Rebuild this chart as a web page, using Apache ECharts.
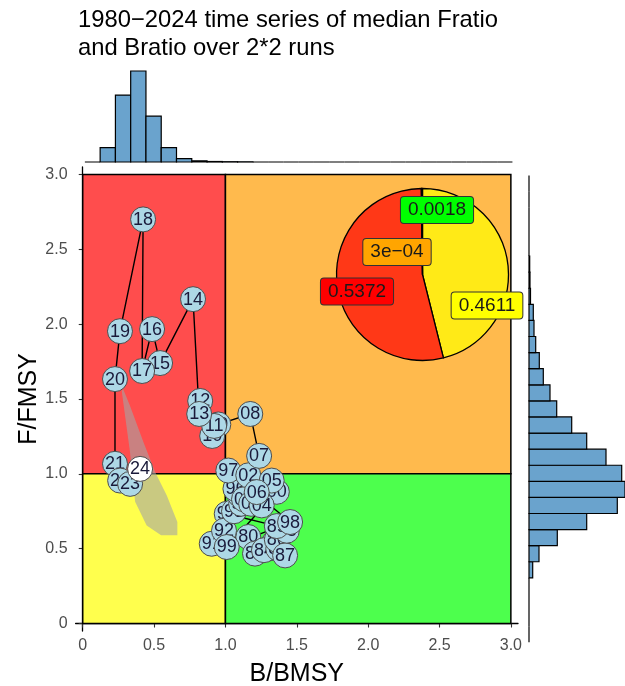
<!DOCTYPE html>
<html><head><meta charset="utf-8">
<script src="https://cdn.jsdelivr.net/npm/echarts@6/dist/echarts.min.js"></script>
<style>html,body{margin:0;padding:0;background:#fff}#c{width:625px;height:686px}</style>
</head><body><div id="c"></div>
<script>
// ---------- data ----------
const years = [1980,1981,1982,1983,1984,1985,1986,1987,1988,1989,
  1990,1991,1992,1993,1994,1995,1996,1997,1998,1999,
  2000,2001,2002,2003,2004,2005,2006,2007,2008,2009,
  2010,2011,2012,2013,2014,2015,2016,2017,2018,2019,
  2020,2021,2022,2023,2024];
const bRatio = [1.16,1.207,1.30,1.34,1.27,1.37,1.36,1.418,1.43,1.36,
  1.009,0.904,0.99,1.06,1.11,1.10,1.07,1.02,1.453,1.009,
  1.36,1.13,1.16,1.18,1.254,1.324,1.219,1.236,1.174,0.95,
  0.907,0.921,0.823,0.816,0.773,0.542,0.486,0.416,0.423,0.261,
  0.226,0.226,0.262,0.332,0.402];
const fRatio = [0.578,0.467,0.50,0.54,0.49,0.50,0.56,0.455,0.62,0.651,
  0.733,0.533,0.62,0.75,0.80,0.86,0.90,1.022,0.678,0.511,
  0.88,0.83,0.99,0.80,0.789,0.955,0.878,1.12,1.40,1.33,
  1.253,1.32,1.487,1.40,2.167,1.74,1.967,1.687,2.70,1.953,
  1.633,1.067,0.955,0.933,1.033];

// uncertainty polygon (B, F)
const polyB = [0.273,0.331,0.367,0.448,0.549,0.663,0.663,0.589,0.507,0.425,0.331,0.283];
const polyF = [1.555,1.147,0.813,0.655,0.589,0.589,0.678,0.855,1.013,1.213,1.455,1.567];

// quadrant bounds [B0, B1, F0, F1]
const quadrants = [[0,1,1,3],[1,3,1,3],[0,1,0,1],[1,3,0,1]];

// pie proportions (yellow, red, orange, green)
const pieNames = ['yellow','red','orange','green'];
const pieValues = [0.4611, 0.5372, 0.0003, 0.0018];
const pieLabels = ['0.4611','0.5372','3e\u221204','0.0018'];

// marginal histograms
const topBinStart = 0.015, topBinWidth = 0.107;
const topCounts = [0,143,667,907,457,143,33,12,5,3,2,0,0,0,0,0,0,0,0,0,0,0,0,0,0,0,0,0];
const rightBinStart = -0.125, rightBinWidth = 0.1075;
const rightCounts = [0,0,0,0,37,100,283,577,883,960,927,770,577,427,277,210,143,103,67,50,43,15,10,7,0,0,0,0,0];

const axisTicks = [0,0.5,1,1.5,2,2.5,3];
const titleText = '1980\u22122024 time series of median Fratio\nand Bratio over 2*2 runs';

// ---------- styles / layout ----------
const FONT = 'Liberation Sans, Arial, sans-serif';
const quadColors = ['#ff4d4d','#ffba4d','#ffff4d','#4dff4d'];
const pieColors = ['#ffea17','#ff3817','#ffab17','#4dea17'];
const pieLabelBg = ['#ffff00','#ff0000','#ffa500','#00ff00'];
const pieCenter = [422.5, 274.5];
const pieLabelOffsets = [[64.5,31],[-65.5,17],[-25.5,-22.5],[14.5,-64.5]];
const histFill = '#6aa3cd';

const topData = topCounts.map((c,i)=>[topBinStart+i*topBinWidth, topBinStart+(i+1)*topBinWidth, c]);
const rightData = rightCounts.map((c,i)=>[rightBinStart+i*rightBinWidth, rightBinStart+(i+1)*rightBinWidth, c]);
const pts = years.map((y,i)=>[bRatio[i], fRatio[i]]);

const chart = echarts.init(document.getElementById('c'), null, {renderer:'canvas'});
const mainX = {min:-0.05, max:3.05};
const option = {
  animation:false,
  backgroundColor:'#ffffff',
  textStyle:{fontFamily:FONT},
  title:{text:titleText, left:78, top:6, padding:0,
    textStyle:{fontFamily:FONT, fontSize:23.8, fontWeight:'normal', color:'#000', lineHeight:28}},
  grid:[
    {left:75.6, right:107, top:167, height:464, containLabel:false, outerBoundsMode:'none'},
    {left:75.6, right:107, top:71, height:91, containLabel:false, outerBoundsMode:'none'},
    {left:529, width:96, top:167, height:464, containLabel:false, outerBoundsMode:'none'}
  ],
  xAxis:[
    {gridIndex:0, type:'value', min:mainX.min, max:mainX.max,
      name:'B/BMSY', nameLocation:'middle', nameGap:31, nameMoveOverlap:false,
      nameTextStyle:{fontFamily:FONT, fontSize:25, color:'#000'},
      axisLine:{lineStyle:{color:'#000', width:1.3}},
      axisTick:{customValues:axisTicks, length:4, lineStyle:{color:'#333', width:1.1}},
      axisLabel:{customValues:axisTicks, margin:7, fontSize:16, color:'#4d4d4d', fontFamily:FONT,
        formatter:v=> v===0?'0':v.toFixed(1)},
      splitLine:{show:false}},
    {gridIndex:1, type:'value', min:mainX.min, max:mainX.max, show:false},
    {gridIndex:2, type:'value', min:0, max:Math.max(...rightCounts), show:false}
  ],
  yAxis:[
    {gridIndex:0, type:'value', min:-0.05, max:3.05,
      name:'F/FMSY', nameLocation:'middle', nameGap:34, nameRotate:90, nameMoveOverlap:false,
      nameTextStyle:{fontFamily:FONT, fontSize:25, color:'#000'},
      axisLine:{lineStyle:{color:'#000', width:1.3}},
      axisTick:{customValues:axisTicks, length:4, lineStyle:{color:'#333', width:1.1}},
      axisLabel:{customValues:axisTicks, margin:8, fontSize:16, color:'#4d4d4d', fontFamily:FONT,
        formatter:v=> v===0?'0':v.toFixed(1)},
      splitLine:{show:false}},
    {gridIndex:1, type:'value', min:0, max:Math.max(...topCounts), show:false},
    {gridIndex:2, type:'value', min:-0.05, max:3.05, show:false}
  ],
  series:[
    {type:'custom', xAxisIndex:0, yAxisIndex:0, z:1, silent:true,
      data:quadrants,
      renderItem:(params, api)=>{
        const q = quadrants[params.dataIndex];
        const p0 = api.coord([q[0], q[2]]), p1 = api.coord([q[1], q[3]]);
        return {type:'rect', shape:{x:p0[0], y:p1[1], width:p1[0]-p0[0], height:p0[1]-p1[1]},
          style:{fill:quadColors[params.dataIndex], stroke:'#000', lineWidth:1.5}};
      }},
    {type:'custom', xAxisIndex:0, yAxisIndex:0, z:2, silent:true,
      data:[0],
      renderItem:(params, api)=>{
        const points = polyB.map((b,i)=>api.coord([b, polyF[i]]));
        return {type:'polygon', shape:{points}, style:{fill:'rgba(165,165,165,0.6)'}};
      }},
    {type:'line', xAxisIndex:0, yAxisIndex:0, z:3, data:pts, symbol:'none', silent:true,
      lineStyle:{color:'#000', width:1.4}},
    {type:'custom', xAxisIndex:0, yAxisIndex:0, z:4, silent:true,
      data:pts,
      renderItem:(params, api)=>{
        const i = params.dataIndex;
        const p = api.coord([bRatio[i], fRatio[i]]);
        const last = i === years.length-1;
        return {type:'group', children:[
          {type:'circle', z2:2*i, shape:{cx:p[0], cy:p[1], r:12.5},
            style:{fill: last?'#ffffff':'#add8e6', stroke:'#4d4d4d', lineWidth:1}},
          {type:'text', z2:2*i+1, style:{text:String(years[i]).slice(2), x:p[0], y:p[1]+0.5,
            align:'center', verticalAlign:'middle', fontSize:18, fontFamily:FONT, fill:'#1a1a3a'}}
        ]};
      }},
    {type:'custom', xAxisIndex:1, yAxisIndex:1, z:2, silent:true, clip:false,
      data:topData,
      renderItem:(params, api)=>{
        const d = topData[params.dataIndex];
        const p0 = api.coord([d[0], 0]), p1 = api.coord([d[1], d[2]]);
        return {type:'rect', shape:{x:p0[0], y:p1[1], width:p1[0]-p0[0], height:p0[1]-p1[1]},
          style:{fill:histFill, stroke:'#000', lineWidth:1.2}};
      }},
    {type:'custom', xAxisIndex:2, yAxisIndex:2, z:2, silent:true, clip:false,
      data:rightData,
      renderItem:(params, api)=>{
        const d = rightData[params.dataIndex];
        const p0 = api.coord([0, d[0]]), p1 = api.coord([d[2], d[1]]);
        return {type:'rect', shape:{x:p0[0], y:p1[1], width:p1[0]-p0[0], height:p0[1]-p1[1]},
          style:{fill:histFill, stroke:'#000', lineWidth:1.2}};
      }},
    {type:'pie', z:6, silent:true, center:pieCenter, radius:86, startAngle:90, clockwise:true,
      avoidLabelOverlap:false,
      data:pieValues.map((v,i)=>({name:pieNames[i], value:v,
        itemStyle:{color:pieColors[i]},
        label:{backgroundColor:pieLabelBg[i]}})),
      itemStyle:{borderColor:'#000', borderWidth:1.3},
      label:{show:true, position:'inside', formatter:p=>pieLabels[p.dataIndex],
        fontFamily:FONT, fontSize:19, color:'#1a1a1a', borderColor:'#333', borderWidth:1,
        borderRadius:3, padding:[4,7,3,7]},
      labelLine:{show:false},
      labelLayout:(params)=>({x:pieCenter[0]+pieLabelOffsets[params.dataIndex][0],
        y:pieCenter[1]+pieLabelOffsets[params.dataIndex][1], align:'center', verticalAlign:'middle'}),
      emphasis:{disabled:true}}
  ]
};
chart.setOption(option);
</script></body></html>
